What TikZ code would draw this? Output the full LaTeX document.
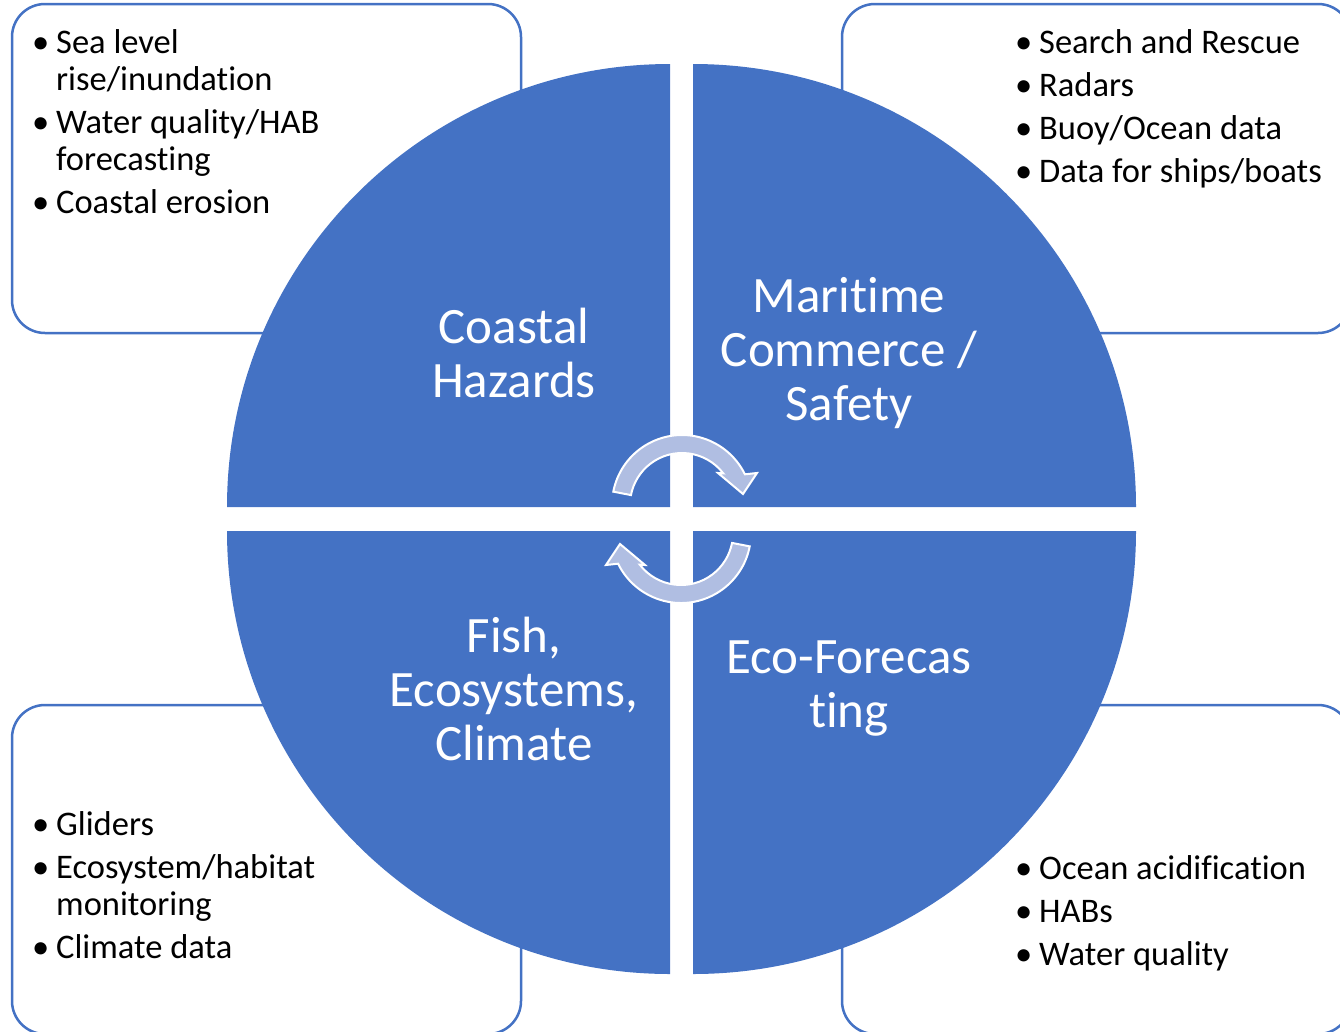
\documentclass[tikz,border=0pt]{standalone}
\usepackage{fontspec}
\setmainfont{Carlito}[Ligatures=NoCommon]
\definecolor{quadblue}{RGB}{68,114,196}
\definecolor{turnfill}{RGB}{176,190,226}
\newcommand{\bl}[1]{\makebox[22pt][l]{\hspace*{-2pt}\textbullet}#1}
\newcommand{\cl}[1]{\hspace*{22pt}#1}

\begin{document}
\begin{tikzpicture}[x=1pt,y=1pt,
  listbox/.style={draw=quadblue,line width=2.5pt,fill=white,rounded corners=33pt},
  quad/.style={fill=quadblue},
  quadtext/.style={text=white,align=center,font=\fontsize{51}{54}\selectfont},
  listtext/.style={anchor=north west,inner sep=0pt,align=left,font=\fontsize{34.5}{37}\selectfont},
  turn/.style={fill=turnfill,draw=white,line width=2pt,line join=miter}]
\useasboundingbox (0,0) rectangle (1340,-1031);
\clip (0,0) rectangle (1340,-1031);
% boxes behind the circle
\draw[listbox] (12,-4) rectangle (521,-333);
\draw[listbox] (842,-4) rectangle (1351,-333);
\draw[listbox] (12,-705) rectangle (521,-1034);
\draw[listbox] (842,-705) rectangle (1351,-1034);
%
\node[listtext] (hazlist) at (34,-23) {\rule{0pt}{30pt}\bl{Sea level}\\ \cl{rise/inundation}\\[6pt]
  \bl{Water quality/HAB}\\ \cl{forecasting}\\[6pt] \bl{Coastal erosion}};
\node[listtext] (marlist) at (1017,-23) {\rule{0pt}{30pt}\bl{Search and Rescue}\\[6pt] \bl{Radars}\\[6pt]
  \bl{Buoy/Ocean data}\\[6pt] \bl{Data for ships/boats}};
\node[listtext] (fishlist) at (34,-805) {\rule{0pt}{30pt}\bl{Gliders}\\[6pt] \bl{Ecosystem/habitat}\\
  \cl{monitoring}\\[6pt] \bl{Climate data}};
\node[listtext] (ecolist) at (1017,-849) {\rule{0pt}{30pt}\bl{Ocean acidification}\\[6pt] \bl{HABs}\\[6pt]
  \bl{Water quality}};
% the four quadrants
\fill[quad] (670,-507) -- (227,-507) arc[start angle=180,end angle=90,radius=443] -- cycle;
\fill[quad] (693,-507) -- (693,-64) arc[start angle=90,end angle=0,radius=443] -- cycle;
\fill[quad] (670,-531) -- (670,-974) arc[start angle=270,end angle=180,radius=443] -- cycle;
\fill[quad] (693,-531) -- (1136,-531) arc[start angle=0,end angle=-90,radius=443] -- cycle;
%
\node[quadtext] (coastal) at (514,-353) {Coastal\\Hazards};
\node[quadtext] (maritime) at (849,-353) {Maritime\\Commerce /\\Safety};
\node[quadtext] (fish) at (514,-689) {Fish,\\Ecosystems,\\Climate};
\node[quadtext] (eco) at (849,-689) {Eco-Forecas\\ting};
% turning arrows in the middle
\begin{scope}[shift={(682,-505)}]
  \draw[turn] (169:70) arc[start angle=169,end angle=26,radius=70] -- (75,32) -- (61,11)
    -- (36,32) -- (37.5:52) arc[start angle=37.5,end angle=169,radius=52] -- cycle;
\end{scope}
\begin{scope}[shift={(681,-533)},rotate=180]
  \draw[turn] (169:70) arc[start angle=169,end angle=26,radius=70] -- (75,32) -- (61,11)
    -- (36,32) -- (37.5:52) arc[start angle=37.5,end angle=169,radius=52] -- cycle;
\end{scope}
\end{tikzpicture}
\end{document}
